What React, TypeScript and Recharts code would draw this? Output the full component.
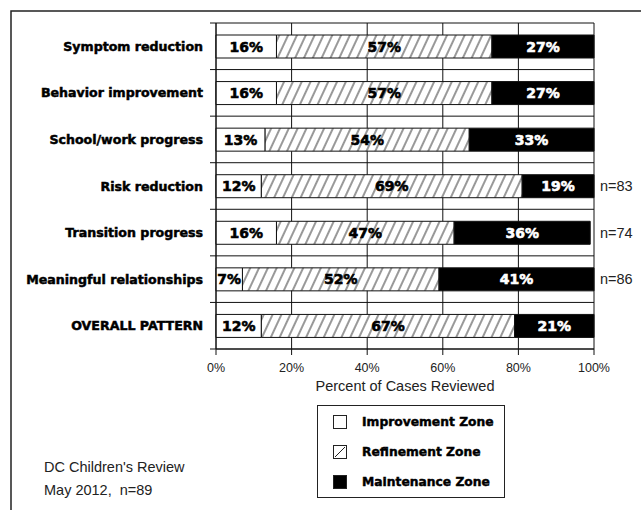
import { BarChart, Bar, XAxis, YAxis, CartesianGrid, LabelList, Legend } from "recharts"

const categories = [
  "Symptom reduction",
  "Behavior improvement",
  "School/work progress",
  "Risk reduction",
  "Transition progress",
  "Meaningful relationships",
  "OVERALL PATTERN",
]
const zoneNames = ["Improvement Zone", "Refinement Zone", "Maintenance Zone"]
const improvement = [16, 16, 13, 12, 16, 7, 12]
const refinement = [57, 57, 54, 69, 47, 52, 67]
const maintenance = [27, 27, 33, 19, 36, 41, 21]
const sampleSizes = ["", "", "", "n=83", "n=74", "n=86", ""]
const percentTicks = [0, 20, 40, 60, 80, 100]

const data = categories.map((name, i) => ({
  name,
  improvement: improvement[i],
  refinement: refinement[i],
  maintenance: maintenance[i],
}))

const HEAVY = "'DejaVu Sans', sans-serif"
const PLAIN = "'Liberation Sans', Arial, sans-serif"

const W = 641
const H = 510
const MARGIN = { top: 23, right: 0, bottom: 111, left: 0 }
const X_AXIS_H = 50
const PLOT_H = H - MARGIN.top - MARGIN.bottom - X_AXIS_H

// category label plus the little stub ticks on the band edges
const CategoryTick = (props: any) => {
  const { x, y, payload, index } = props
  const half = PLOT_H / categories.length / 2
  const axisX = x + 13
  return (
    <g>
      <line x1={axisX - 6} x2={axisX} y1={y - half} y2={y - half} stroke="#111" />
      {index === categories.length - 1 && (
        <line x1={axisX - 6} x2={axisX} y1={y + half} y2={y + half} stroke="#111" />
      )}
      <text
        x={x}
        y={y}
        dy="0.36em"
        textAnchor="end"
        fontFamily={HEAVY}
        fontWeight="bold"
        fontSize={12.6}
        fill="#000"
        stroke="#000"
        strokeWidth={0.5}
      >
        {payload.value}
      </text>
    </g>
  )
}

const segmentLabel = (color: string) => (props: any) => {
  const { x, y, width, height, value } = props
  return (
    <text
      x={x + width / 2}
      y={y + height / 2}
      dy="0.36em"
      textAnchor="middle"
      fill={color}
      stroke={color}
      strokeWidth={0.6}
      fontFamily={HEAVY}
      fontWeight="bold"
      fontSize={14}
    >
      {value}%
    </text>
  )
}

const LegendBox = ({ payload }: any) => {
  const items = [...(payload || [])].sort((a: any, b: any) => zoneNames.indexOf(a.value) - zoneNames.indexOf(b.value))
  return (
    <div style={{ border: "1px solid #222", background: "#fff", width: 188, height: 93, boxSizing: "border-box", padding: "1px 0 0 15px" }}>
      {items.map((entry: any) => {
        const fill = entry.payload?.fill
        const hatched = fill === "url(#hatch)"
        return (
          <div key={entry.value} style={{ display: "flex", alignItems: "center", height: 30 }}>
            <svg width={14} height={14} style={{ marginRight: 15 }}>
              <rect x={0.5} y={0.5} width={13} height={13} fill={hatched ? "#fff" : fill} stroke="#222" />
              {hatched && <line x1={2} y1={12} x2={12} y2={2} stroke="#222" />}
            </svg>
            <span style={{ fontFamily: HEAVY, fontWeight: "bold", fontSize: 12.3, color: "#000", WebkitTextStroke: "0.45px #000" }}>
              {entry.value}
            </span>
          </div>
        )
      })}
    </div>
  )
}

export default function App() {
  return (
    <div style={{ position: "absolute", left: 0, top: 0, width: W, height: H, overflow: "hidden", background: "#fff" }}>
      <BarChart width={W} height={H} data={data} layout="vertical" margin={MARGIN}>
        <defs>
          <pattern id="hatch" patternUnits="userSpaceOnUse" width="8" height="8" patternTransform="rotate(25)">
            <rect width="8" height="8" fill="#fff" />
            <line x1="4" y1="0" x2="4" y2="8" stroke="#333" strokeWidth="1" />
          </pattern>
        </defs>
        <rect x={11} y={11} width={700} height={600} fill="none" stroke="#222" strokeWidth={1.5} />
        <CartesianGrid
          yAxisId="cat"
          stroke="#111"
          horizontalCoordinatesGenerator={({ offset }: any) =>
            categories.map((_, i) => offset.top + (i * offset.height) / categories.length).concat(offset.top + offset.height)
          }
        />
        <XAxis
          type="number"
          domain={[0, 100]}
          ticks={percentTicks}
          tickFormatter={(v: number) => `${v}%`}
          height={X_AXIS_H}
          tickSize={6}
          tickMargin={8}
          stroke="#111"
          tick={{ fontFamily: PLAIN, fontSize: 12.5, fill: "#222" }}
          label={{ value: "Percent of Cases Reviewed", position: "insideBottom", offset: 8, fontFamily: PLAIN, fontSize: 14.5, fill: "#222" }}
        />
        <YAxis
          yAxisId="cat"
          type="category"
          dataKey="name"
          width={216}
          tickSize={6}
          tickMargin={7}
          tickLine={false}
          stroke="#111"
          interval={0}
          tick={<CategoryTick />}
        />
        <YAxis
          yAxisId="n"
          orientation="right"
          type="category"
          dataKey="name"
          width={47}
          tickSize={0}
          tickMargin={6}
          tickLine={false}
          axisLine={false}
          interval={0}
          tickFormatter={(_: string, i: number) => sampleSizes[i]}
          tick={{ fontFamily: PLAIN, fontSize: 14.5, fill: "#222", textAnchor: "start" }}
        />
        <Legend
          layout="vertical"
          align="center"
          verticalAlign="middle"
          wrapperStyle={{ left: 317, top: 405, width: 188, height: 93 }}
          content={<LegendBox />}
        />
        <Bar yAxisId="cat" dataKey="improvement" name={zoneNames[0]} stackId="z" fill="#fff" stroke="#111" barSize={23} isAnimationActive={false}>
          <LabelList dataKey="improvement" content={segmentLabel("#000")} />
        </Bar>
        <Bar yAxisId="cat" dataKey="refinement" name={zoneNames[1]} stackId="z" fill="url(#hatch)" stroke="#111" barSize={23} isAnimationActive={false}>
          <LabelList dataKey="refinement" content={segmentLabel("#000")} />
        </Bar>
        <Bar yAxisId="cat" dataKey="maintenance" name={zoneNames[2]} stackId="z" fill="#000" stroke="#111" barSize={23} isAnimationActive={false}>
          <LabelList dataKey="maintenance" content={segmentLabel("#fff")} />
        </Bar>
        <text x={44} y={472} fontFamily={PLAIN} fontSize={14.5} fill="#222">DC Children's Review</text>
        <text x={44} y={495} fontFamily={PLAIN} fontSize={14.5} fill="#222" style={{ whiteSpace: "pre" }}>May 2012,  n=89</text>
      </BarChart>
    </div>
  )
}
